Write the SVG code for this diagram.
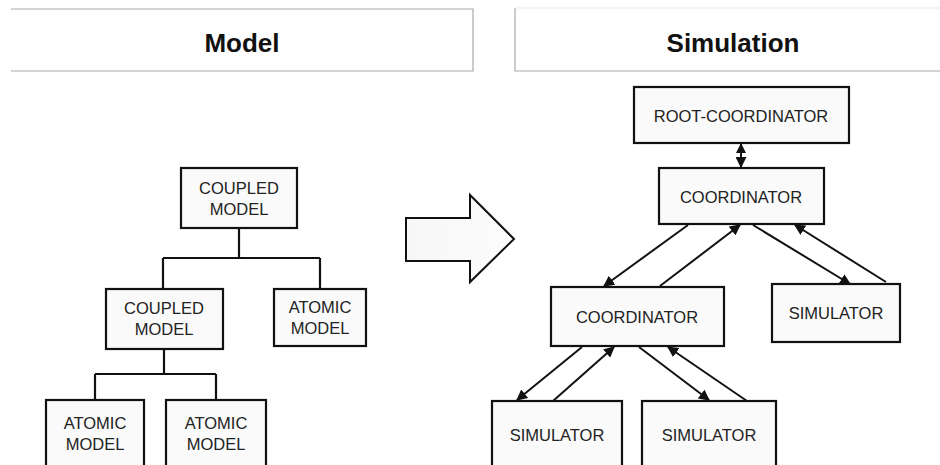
<svg xmlns="http://www.w3.org/2000/svg" width="940" height="465" viewBox="0 0 940 465">
<defs>
<style>
.box{fill:#fafafa;stroke:#111;stroke-width:2.2}
.t{font-family:"Liberation Sans",Arial,sans-serif;font-size:16.5px;fill:#222;text-anchor:middle}
.h{font-family:"Liberation Sans",Arial,sans-serif;font-size:26px;font-weight:bold;fill:#111;text-anchor:middle}
.tree{fill:none;stroke:#111;stroke-width:2.2}
.arr{fill:none;stroke:#111;stroke-width:2;marker-end:url(#ah)}
.panel{fill:#fefefe;stroke:none}
.pl{stroke:#aaa;stroke-width:1.2;fill:none}
</style>
<marker id="ah" viewBox="0 0 10 10" refX="9" refY="5" markerWidth="5.5" markerHeight="5.5" orient="auto" markerUnits="strokeWidth">
<path d="M0,0 L10,5 L0,10 z" fill="#111"/>
</marker>
<marker id="ahs" viewBox="0 0 10 10" refX="9" refY="5" markerWidth="5" markerHeight="5" orient="auto-start-reverse" markerUnits="strokeWidth">
<path d="M0,0 L10,5 L0,10 z" fill="#111"/>
</marker>
<linearGradient id="ag" x1="0" y1="0" x2="1" y2="0">
<stop offset="0" stop-color="#f7f7f7"/>
<stop offset="1" stop-color="#fcfcfc"/>
</linearGradient>
</defs>
<rect width="940" height="465" fill="#fff"/>

<g id="header-model">
<rect class="panel" x="11" y="9" width="462" height="62"/>
<path class="pl" d="M11,9 H473 V71 H11"/>
<text class="h" x="242" y="52">Model</text>
</g>
<g id="header-simulation">
<rect class="panel" x="515" y="8" width="430" height="63"/>
<path class="pl" d="M945,71 H515 V8"/>
<path d="M515,8 H940" stroke="#e8e8e8" stroke-width="1" fill="none"/>
<text class="h" x="733" y="52">Simulation</text>
</g>

<g id="transform-arrow">
<path d="M406,218 H470 V195 L514,239 L470,282 V261 H406 Z" fill="url(#ag)" stroke="#111" stroke-width="2"/>
</g>

<g id="connectors">
<path class="tree" d="M239,228 V258 M163,258 H320 M163,258 V289 M320,258 V289"/>
<path class="tree" d="M164,349 V374 M95,374 H216 M95,374 V400 M216,374 V400"/>
<line x1="741" y1="144" x2="741" y2="167" stroke="#111" stroke-width="2" marker-start="url(#ahs)" marker-end="url(#ah)"/>
<line class="arr" x1="688" y1="225" x2="604" y2="286"/>
<line class="arr" x1="660" y1="286" x2="740" y2="225"/>
<line class="arr" x1="753" y1="225" x2="850" y2="284"/>
<line class="arr" x1="886" y1="282" x2="795" y2="225"/>
<line class="arr" x1="582" y1="347" x2="517" y2="400"/>
<line class="arr" x1="553" y1="401" x2="614" y2="347"/>
<line class="arr" x1="639" y1="347" x2="709" y2="400"/>
<line class="arr" x1="747" y1="401" x2="668" y2="347"/>
</g>

<g id="coupled-model-top">
<rect class="box" x="181" y="168" width="116" height="60"/>
<text class="t" x="239" y="194">COUPLED</text>
<text class="t" x="239" y="215">MODEL</text>
</g>
<g id="coupled-model-mid">
<rect class="box" x="106" y="289" width="117" height="60"/>
<text class="t" x="164" y="314">COUPLED</text>
<text class="t" x="164" y="335">MODEL</text>
</g>
<g id="atomic-model-right">
<rect class="box" x="274" y="289" width="92" height="57"/>
<text class="t" x="320" y="313">ATOMIC</text>
<text class="t" x="320" y="334">MODEL</text>
</g>
<g id="atomic-model-bl">
<rect class="box" x="46" y="400" width="98" height="75"/>
<text class="t" x="95" y="429">ATOMIC</text>
<text class="t" x="95" y="450">MODEL</text>
</g>
<g id="atomic-model-br">
<rect class="box" x="166" y="400" width="100" height="75"/>
<text class="t" x="216" y="429">ATOMIC</text>
<text class="t" x="216" y="450">MODEL</text>
</g>

<g id="root-coordinator">
<rect class="box" x="634" y="87" width="215" height="56"/>
<text class="t" x="741" y="122">ROOT-COORDINATOR</text>
</g>
<g id="coordinator-top">
<rect class="box" x="659" y="168" width="165" height="56"/>
<text class="t" x="741" y="203">COORDINATOR</text>
</g>
<g id="coordinator-mid">
<rect class="box" x="551" y="287" width="173" height="59"/>
<text class="t" x="637" y="323">COORDINATOR</text>
</g>
<g id="simulator-right">
<rect class="box" x="772" y="284" width="128" height="58"/>
<text class="t" x="836" y="319">SIMULATOR</text>
</g>
<g id="simulator-bl">
<rect class="box" x="492" y="401" width="130" height="75"/>
<text class="t" x="557" y="441">SIMULATOR</text>
</g>
<g id="simulator-br">
<rect class="box" x="642" y="401" width="134" height="75"/>
<text class="t" x="709" y="441">SIMULATOR</text>
</g>
</svg>
